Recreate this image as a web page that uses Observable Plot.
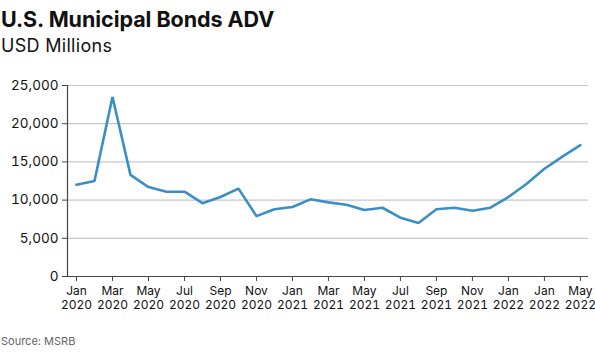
<!DOCTYPE html>
<html>
<head>
<meta charset="utf-8">
<script src="https://cdn.jsdelivr.net/npm/d3@7"></script>
<script src="https://cdn.jsdelivr.net/npm/@observablehq/plot@0.6"></script>
<style>
  body { margin: 0; background: #fff; font-family: Inter, Roboto, sans-serif; width: 595px; height: 357px; overflow: hidden; position: relative; }
  #title { position: absolute; left: 1px; top: 9px; font-size: 21.5px; font-weight: 700; color: #111; letter-spacing: -0.05px; line-height: 1; }
  #subtitle { position: absolute; left: 1px; top: 37px; font-size: 18px; color: #111; line-height: 1; letter-spacing: 0.3px; }
  #chart { position: absolute; left: 0; top: 70px; }
  #source { position: absolute; left: 1px; top: 334px; font-size: 11px; color: #666; }
</style>
</head>
<body>
<div id="title">U.S. Municipal Bonds ADV</div>
<div id="subtitle">USD Millions</div>
<div id="chart"></div>
<div id="source">Source: MSRB</div>
<script>
const months = ["Jan 2020","Feb 2020","Mar 2020","Apr 2020","May 2020","Jun 2020","Jul 2020","Aug 2020","Sep 2020","Oct 2020","Nov 2020","Dec 2020",
  "Jan 2021","Feb 2021","Mar 2021","Apr 2021","May 2021","Jun 2021","Jul 2021","Aug 2021","Sep 2021","Oct 2021","Nov 2021","Dec 2021",
  "Jan 2022","Feb 2022","Mar 2022","Apr 2022","May 2022"];
const adv = [12000, 12500, 23500, 13300, 11700, 11100, 11100, 9600, 10400, 11500, 7900, 8800,
  9100, 10100, 9700, 9400, 8700, 9000, 7700, 7000, 8800, 9000, 8600, 9000,
  10400, 12100, 14100, 15700, 17200];
const tickLabels = ["Jan\n2020","Mar\n2020","May\n2020","Jul\n2020","Sep\n2020","Nov\n2020","Jan\n2021","Mar\n2021","May\n2021","Jul\n2021","Sep\n2021","Nov\n2021","Jan\n2022","Jan\n2022","May\n2022"];
const yTicks = [0, 5000, 10000, 15000, 20000, 25000];

const data = months.map((m, i) => ({i, month: m, value: adv[i]}));
const xTicks = tickLabels.map((_, k) => k * 2);

const chart = Plot.plot({
  width: 595,
  height: 250,
  marginLeft: 67,
  marginRight: 7,
  marginTop: 15,
  marginBottom: 44,
  style: {fontFamily: "Inter, Roboto, sans-serif", fontSize: "13px", color: "#111", background: "#fff"},
  x: {type: "linear", domain: [-0.5, 28.45], label: null},
  y: {domain: [0, 25000], label: null},
  marks: [
    Plot.gridY(yTicks.filter(d => d > 0), {stroke: "#c8c8c8", strokeOpacity: 1, strokeWidth: 1.2}),
    Plot.axisY({ticks: yTicks, tickFormat: d3.format(","), tickSize: 5, tickPadding: 4, stroke: "#444", label: null, fontSize: 13.5}),
    Plot.axisX({ticks: xTicks, tickFormat: i => tickLabels[i / 2], tickSize: 5, tickPadding: 3, stroke: "#444", label: null, fontSize: 12, lineHeight: 1.2}),
    Plot.ruleX([-0.5], {stroke: "#444", strokeWidth: 1.2}),
    Plot.ruleY([0], {stroke: "#444", strokeWidth: 1.2}),
    Plot.line(data, {x: "i", y: "value", stroke: "#3a8fc4", strokeWidth: 2.6, strokeLinejoin: "miter"})
  ]
});
document.getElementById("chart").appendChild(chart);
</script>
</body>
</html>
